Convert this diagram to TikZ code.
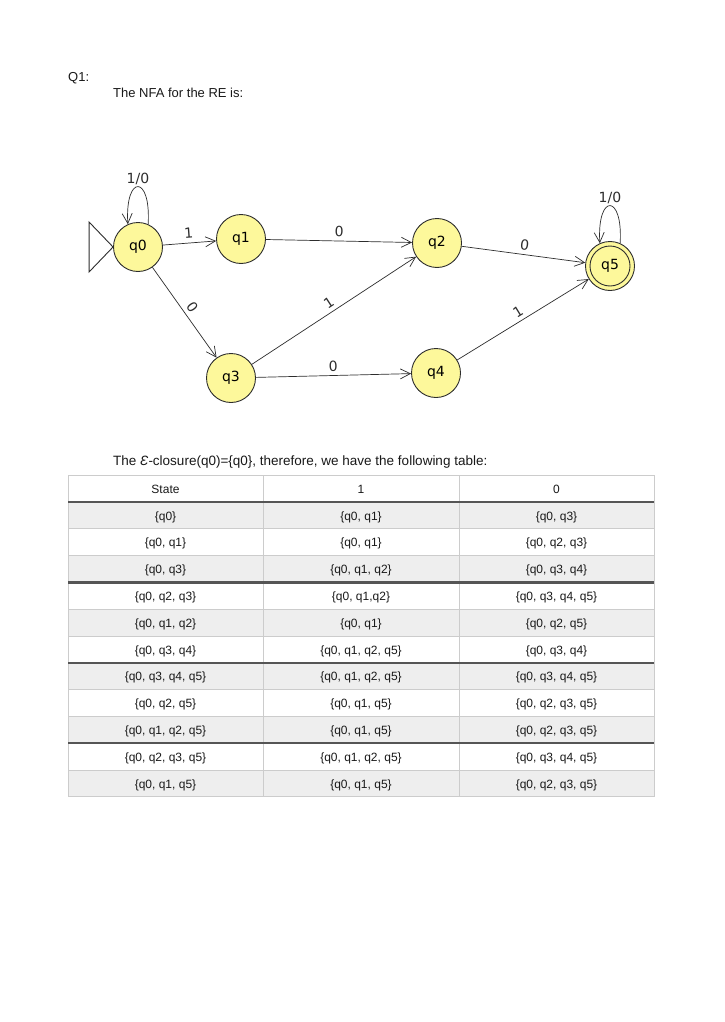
\documentclass[tikz,border=0pt]{standalone}
\usepackage{fontspec}
\setmainfont{Liberation Sans}
\newfontfamily\nfafont{DejaVu Sans}
\usetikzlibrary{arrows.meta}
\definecolor{nfafill}{RGB}{253,248,155}
\definecolor{nfaline}{RGB}{45,45,45}
\definecolor{rowgray}{RGB}{238,238,238}
\definecolor{gridgray}{RGB}{204,204,204}
\definecolor{thickgray}{RGB}{85,85,85}
\definecolor{txt}{RGB}{25,25,25}
\newcommand\tabrow[4]{%
  \node[cell] (s#1) at (165.5,{503.5+26.8*(#1-0.5)}) {#2};
  \node[cell] (a#1) at (361,{503.5+26.8*(#1-0.5)}) {#3};
  \node[cell] (b#1) at (556.5,{503.5+26.8*(#1-0.5)}) {#4};}
\begin{document}
\begin{tikzpicture}[x=1pt,y=-1pt,
  state/.style={circle, draw=nfaline, fill=nfafill, line width=0.9pt, minimum size=49pt, inner sep=0pt, font=\nfafont\fontsize{14}{16}\selectfont},
  trans/.style={draw=nfaline, line width=0.7pt, -{Straight Barb[length=10pt,width=10pt]}},
  lab/.style={font=\nfafont\fontsize{14}{16}\selectfont, text=nfaline, inner sep=2pt},
  cell/.style={font=\fontsize{12}{14}\selectfont, inner sep=0pt, text=txt},
  doc/.style={font=\fontsize{13}{15}\selectfont, anchor=base west, inner sep=0pt, text=txt},
  thin/.style={draw=gridgray, line width=0.8pt},
  thick/.style={draw=thickgray, line width=2.4pt}
]
\useasboundingbox[fill=white] (0,0) rectangle (724,1022);

\node[doc] (title) at (68,82) {Q1:};
\node[doc] (intro) at (113,98) {The NFA for the RE is:};

% NFA
\node[state] (q0) at (138,247) {q0};
\node[state] (q1) at (241,239) {q1};
\node[state] (q2) at (437,243) {q2};
\node[state] (q3) at (231,378) {q3};
\node[state] (q4) at (436,373) {q4};
\node[state] (q5) at (610,266) {q5};
\draw[nfaline, line width=0.9pt] (q5.center) circle[radius=20pt];

\draw[nfaline, line width=0.9pt] (q0.west) -- ++(-24,-25) -- ++(0,50) -- cycle;

\draw[trans] (q0.66) .. controls +(3,-50) and +(-3,-50) .. node[lab, above, pos=0.5] {1/0} (q0.114);
\draw[trans] (q5.66) .. controls +(3,-50) and +(-3,-50) .. node[lab, above, pos=0.5] {1/0} (q5.114);

\draw[trans] (q0) -- node[lab, above=3pt, sloped] {1} (q1);
\draw[trans] (q1) -- node[lab, above=2pt, sloped] {0} (q2);
\draw[trans] (q2) -- node[lab, above=2pt, sloped] {0} (q5);
\draw[trans] (q0) -- node[lab, above=2pt, sloped] {0} (q3);
\draw[trans] (q3) -- node[lab, above=2pt, sloped] {1} (q2);
\draw[trans] (q3) -- node[lab, above=2pt, sloped] {0} (q4);
\draw[trans] (q4) -- node[lab, above=2pt, sloped] {1} (q5);

% closure text
\node[doc, font=\fontsize{13.5}{15}\selectfont] (eps) at (113,465) {The {\itshape Ɛ}-closure(q0)=\{q0\}, therefore, we have the following table:};

% table
\foreach \k in {1,3,5,7,9,11}
  \fill[rowgray] (68,{502+26.8*(\k-1)}) rectangle (654,{502+26.8*\k});
\draw[thin] (68,475) -- (654,475);
\foreach \k in {1,...,11}
  \draw[thin] (68,{502+26.8*\k}) -- (654,{502+26.8*\k});
\foreach \x in {68,263,459,654}
  \draw[thin] (\x,475) -- (\x,796.8);
\foreach \k in {0,3,6,9}
  \draw[thick] (68,{502+26.8*\k}) -- (654,{502+26.8*\k});

\node[cell] (hs) at (165.5,489) {State};
\node[cell] (h1) at (361,489) {1};
\node[cell] (h0) at (556.5,489) {0};

\tabrow{1}{\{q0\}}{\{q0, q1\}}{\{q0, q3\}}
\tabrow{2}{\{q0, q1\}}{\{q0, q1\}}{\{q0, q2, q3\}}
\tabrow{3}{\{q0, q3\}}{\{q0, q1, q2\}}{\{q0, q3, q4\}}
\tabrow{4}{\{q0, q2, q3\}}{\{q0, q1,q2\}}{\{q0, q3, q4, q5\}}
\tabrow{5}{\{q0, q1, q2\}}{\{q0, q1\}}{\{q0, q2, q5\}}
\tabrow{6}{\{q0, q3, q4\}}{\{q0, q1, q2, q5\}}{\{q0, q3, q4\}}
\tabrow{7}{\{q0, q3, q4, q5\}}{\{q0, q1, q2, q5\}}{\{q0, q3, q4, q5\}}
\tabrow{8}{\{q0, q2, q5\}}{\{q0, q1, q5\}}{\{q0, q2, q3, q5\}}
\tabrow{9}{\{q0, q1, q2, q5\}}{\{q0, q1, q5\}}{\{q0, q2, q3, q5\}}
\tabrow{10}{\{q0, q2, q3, q5\}}{\{q0, q1, q2, q5\}}{\{q0, q3, q4, q5\}}
\tabrow{11}{\{q0, q1, q5\}}{\{q0, q1, q5\}}{\{q0, q2, q3, q5\}}
\end{tikzpicture}
\end{document}
